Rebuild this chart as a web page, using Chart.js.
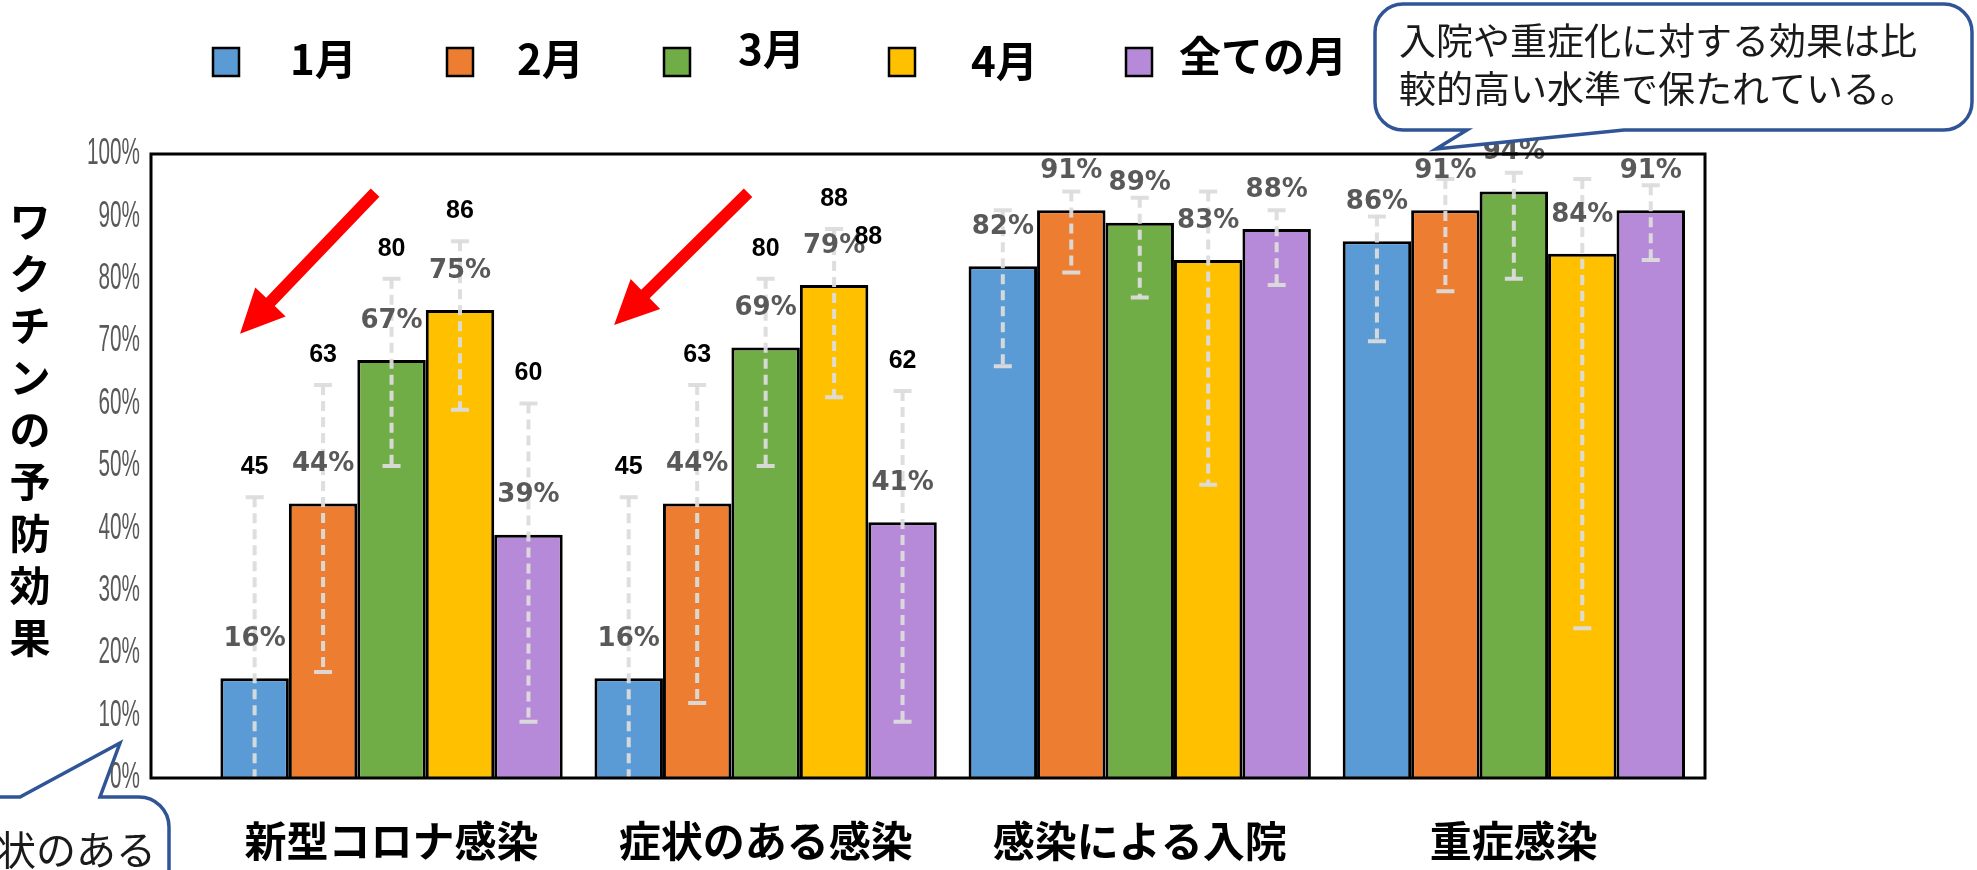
<!DOCTYPE html>
<html lang="ja">
<head>
<meta charset="utf-8">
<title>ワクチンの予防効果</title>
<script src="https://cdn.jsdelivr.net/npm/chart.js@4.4.1/dist/chart.umd.min.js"></script>
<style>
  html, body { margin: 0; padding: 0; background: #fff; overflow: hidden; }
  #chart { display: block; }
</style>
</head>
<body>
<canvas id="chart" width="1977" height="870"></canvas>
<script>
const categories = ['新型コロナ感染', '症状のある感染', '感染による入院', '重症感染'];
const months = ['1月', '2月', '3月', '4月', '全ての月'];
const colors = ['#5b9bd5', '#ed7d31', '#70ad47', '#ffc000', '#b78ad9'];
const yTicks = [0, 10, 20, 30, 40, 50, 60, 70, 80, 90, 100];

// vaccine effectiveness (%) by month, one value per category
const jan = [16, 16, 82, 86];
const feb = [44, 44, 91, 91];
const mar = [67, 69, 89, 94];
const apr = [75, 79, 83, 84];
const allMonths = [39, 41, 88, 91];

// interval bounds
const janLow = [0, 0, 66, 70];
const janHigh = [45, 45, 91, 90];
const febLow = [17, 12, 81, 78];
const febHigh = [63, 63, 94, 96];
const marLow = [50, 50, 77, 80];
const marHigh = [80, 80, 93, 97];
const aprLow = [59, 61, 47, 24];
const aprHigh = [86, 88, 94, 96];
const allLow = [9, 9, 79, 83];
const allHigh = [60, 62, 91, 95];

const series = [jan, feb, mar, apr, allMonths];
const lows = [janLow, febLow, marLow, aprLow, allLow];
const highs = [janHigh, febHigh, marHigh, aprHigh, allHigh];

// upper bounds are printed only for the infection categories
const labelledHighGroups = [0, 1];

const JP = '"Noto Sans CJK JP", "Noto Sans", sans-serif';

const datasets = series.map((vals, s) => ({
  label: months[s],
  data: vals.map((v, i) => ({ x: i, y: v })),
  low: lows[s],
  high: highs[s],
  backgroundColor: colors[s],
  borderColor: '#000',
  borderWidth: 3,
  borderSkipped: 'start'
}));

// dashed interval whiskers, value labels
const intervalPlugin = {
  id: 'intervals',
  afterDatasetsDraw(chart) {
    const { ctx } = chart;
    const y = chart.scales.y;
    ctx.save();
    chart.data.datasets.forEach((ds, s) => {
      chart.getDatasetMeta(s).data.forEach((bar, i) => {
        const top = y.getPixelForValue(ds.high[i]);
        const bottom = y.getPixelForValue(ds.low[i]);
        ctx.strokeStyle = 'rgba(220,220,220,0.95)';
        ctx.lineWidth = 4;
        ctx.setLineDash([10, 6]);
        ctx.beginPath();
        ctx.moveTo(bar.x, top);
        ctx.lineTo(bar.x, bottom);
        ctx.stroke();
        ctx.setLineDash([]);
        ctx.beginPath();
        ctx.moveTo(bar.x - 9, top);
        ctx.lineTo(bar.x + 9, top);
        if (ds.low[i] > 0) {
          ctx.moveTo(bar.x - 9, bottom);
          ctx.lineTo(bar.x + 9, bottom);
        }
        ctx.stroke();
      });
    });

    ctx.textAlign = 'center';
    ctx.textBaseline = 'middle';
    chart.data.datasets.forEach((ds, s) => {
      chart.getDatasetMeta(s).data.forEach((bar, i) => {
        ctx.font = 'bold 26px "DejaVu Sans", sans-serif';
        ctx.fillStyle = '#595959';
        ctx.fillText(ds.data[i].y + '%', bar.x, bar.y - 39);
        if (labelledHighGroups.includes(i)) {
          ctx.font = 'bold 25px "Liberation Sans", Arial, sans-serif';
          ctx.fillStyle = '#000';
          ctx.fillText(String(ds.high[i]), bar.x, y.getPixelForValue(ds.high[i]) - 30);
        }
      });
    });
    // the April figure for symptomatic infection is printed a second time beside its bar
    const apr2 = chart.getDatasetMeta(3).data[1];
    ctx.font = 'bold 25px "Liberation Sans", Arial, sans-serif';
    ctx.fillStyle = '#000';
    ctx.fillText(String(aprHigh[1]), apr2.x + apr2.width / 2, y.getPixelForValue(aprHigh[1]) + 8);
    ctx.restore();
  }
};

function roundedCallout(ctx, x0, y0, x1, y1, r, tail) {
  ctx.beginPath();
  ctx.moveTo(x0 + r, y0);
  if (tail.side === 'top') {
    ctx.lineTo(tail.a, y0);
    ctx.lineTo(tail.tip[0], tail.tip[1]);
    ctx.lineTo(tail.b, y0);
  }
  ctx.lineTo(x1 - r, y0);
  ctx.arcTo(x1, y0, x1, y0 + r, r);
  ctx.lineTo(x1, y1 - r);
  ctx.arcTo(x1, y1, x1 - r, y1, r);
  if (tail.side === 'bottom') {
    ctx.lineTo(tail.b, y1);
    ctx.lineTo(tail.tip[0], tail.tip[1]);
    ctx.lineTo(tail.a, y1);
  }
  ctx.lineTo(x0 + r, y1);
  ctx.arcTo(x0, y1, x0, y1 - r, r);
  ctx.lineTo(x0, y0 + r);
  ctx.arcTo(x0, y0, x0 + r, y0, r);
  ctx.closePath();
}

function drawArrow(ctx, x0, y0, x1, y1) {
  const ang = Math.atan2(y1 - y0, x1 - x0);
  const head = 44, half = 21, shaft = 6;
  const bx = x1 - head * Math.cos(ang);
  const by = y1 - head * Math.sin(ang);
  const nx = -Math.sin(ang), ny = Math.cos(ang);
  ctx.beginPath();
  ctx.moveTo(x0 + nx * shaft, y0 + ny * shaft);
  ctx.lineTo(bx + nx * shaft, by + ny * shaft);
  ctx.lineTo(bx + nx * half, by + ny * half);
  ctx.lineTo(x1, y1);
  ctx.lineTo(bx - nx * half, by - ny * half);
  ctx.lineTo(bx - nx * shaft, by - ny * shaft);
  ctx.lineTo(x0 - nx * shaft, y0 - ny * shaft);
  ctx.closePath();
  ctx.fill();
}

const decorPlugin = {
  id: 'decor',
  afterDatasetsDraw(chart) {
    const { ctx, chartArea: a } = chart;
    ctx.save();
    ctx.strokeStyle = '#000';
    ctx.lineWidth = 3;
    ctx.strokeRect(a.left, a.top, a.right - a.left, a.bottom - a.top);
    ctx.restore();
  },
  afterDraw(chart) {
    const { ctx, chartArea: a } = chart;
    const { x, y } = chart.scales;
    ctx.save();

    // red arrows over the infection groups
    ctx.fillStyle = '#ff0000';
    [[-0.044, 93.8, -0.405, 71.2], [0.953, 93.8, 0.595, 72.6]].forEach(([ax, ay, bx, by]) => {
      drawArrow(ctx, x.getPixelForValue(ax), y.getPixelForValue(ay), x.getPixelForValue(bx), y.getPixelForValue(by));
    });

    // legend
    const boxX = [226, 460, 677, 902, 1139];
    const textX = [290, 517, 738, 971, 1179];
    const textY = [59, 59, 49, 61, 56];
    ctx.textBaseline = 'middle';
    ctx.textAlign = 'left';
    months.forEach((m, s) => {
      ctx.fillStyle = colors[s];
      ctx.fillRect(boxX[s] - 13, 48, 26, 28);
      ctx.strokeStyle = '#000';
      ctx.lineWidth = 2.5;
      ctx.strokeRect(boxX[s] - 13, 48, 26, 28);
      ctx.fillStyle = '#000';
      ctx.font = 'bold 42px ' + JP;
      ctx.fillText(m, textX[s], textY[s]);
    });

    // vertical axis title, upright characters
    ctx.textAlign = 'center';
    ctx.font = 'bold 41px ' + JP;
    Array.from('ワクチンの予防効果').forEach((c, k) => {
      ctx.fillText(c, 30, 221 + k * 52);
    });

    // speech bubbles
    ctx.lineWidth = 3.5;
    ctx.strokeStyle = '#2f5597';
    ctx.fillStyle = '#fff';
    roundedCallout(ctx, 1375, 4, 1972, 130, 28, { side: 'bottom', a: 1467, b: 1624, tip: [1436, 149] });
    ctx.fill();
    ctx.stroke();
    roundedCallout(ctx, -300, 797, 169, 1000, 30, { side: 'top', a: 20, b: 100, tip: [120, 743] });
    ctx.fill();
    ctx.stroke();

    ctx.fillStyle = '#1a1a1a';
    ctx.textAlign = 'left';
    ctx.font = '37px ' + JP;
    ctx.fillText('入院や重症化に対する効果は比', 1399, 41);
    ctx.fillText('較的高い水準で保たれている。', 1399, 89);
    ctx.font = '40px ' + JP;
    ctx.fillText('症状のある', -44, 850);

    // y tick labels in a narrow face
    ctx.fillStyle = '#595959';
    ctx.font = '37px "Liberation Sans", Arial, sans-serif';
    ctx.textAlign = 'right';
    ctx.textBaseline = 'middle';
    y.ticks.forEach((t) => {
      ctx.save();
      ctx.translate(a.left - 11, y.getPixelForValue(t.value));
      ctx.scale(0.56, 1);
      ctx.fillText(t.value + '%', 0, 0);
      ctx.restore();
    });
    ctx.restore();
  }
};

new Chart(document.getElementById('chart'), {
  type: 'bar',
  data: { datasets },
  options: {
    responsive: false,
    animation: false,
    devicePixelRatio: 1,
    layout: { padding: { left: 0, top: 154, right: 272, bottom: 0 } },
    categoryPercentage: 0.915,
    barPercentage: 1,
    plugins: {
      legend: { display: false },
      tooltip: { enabled: false }
    },
    scales: {
      x: {
        type: 'linear',
        min: -0.643,
        max: 3.511,
        bounds: 'data',
        offset: false,
        grid: { display: false, offset: false },
        border: { display: false },
        afterBuildTicks: (axis) => { axis.ticks = categories.map((_, i) => ({ value: i })); },
        afterFit: (axis) => { axis.height = 92; },
        ticks: {
          autoSkip: false,
          maxRotation: 0,
          padding: 30,
          color: '#000',
          font: { family: JP, size: 42, weight: 'bold' },
          callback: (v) => categories[v]
        }
      },
      y: {
        min: 0,
        max: 100,
        grid: { display: false },
        border: { display: false },
        afterBuildTicks: (axis) => { axis.ticks = yTicks.map(v => ({ value: v })); },
        afterFit: (axis) => { axis.width = 151; },
        ticks: { display: false }
      }
    }
  },
  plugins: [intervalPlugin, decorPlugin]
});
</script>
</body>
</html>
